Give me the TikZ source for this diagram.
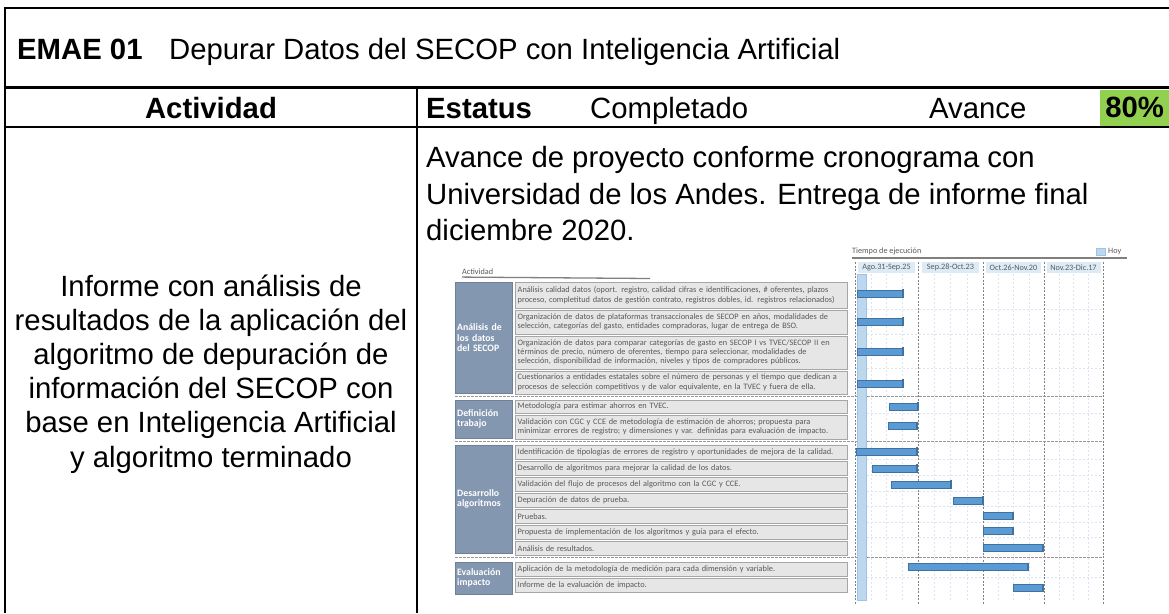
\documentclass[tikz,border=0pt]{standalone}
\usepackage{fontspec}
\setmainfont{Liberation Sans}
\newfontfamily\ganttfont{Carlito}
\usepackage{tikz}
\usetikzlibrary{positioning}
\definecolor{avancegreen}{HTML}{92D050}
\definecolor{groupblue}{HTML}{8497B0}
\definecolor{taskgray}{HTML}{E7E6E6}
\definecolor{taskline}{HTML}{A6A6A6}
\definecolor{barblue}{HTML}{5B9BD5}
\definecolor{barline}{HTML}{41719C}
\definecolor{hoyblue}{HTML}{BDD7EE}
\definecolor{hoyline}{HTML}{9DC3E6}
\definecolor{headblue}{HTML}{DDEBF7}
\definecolor{gridblue}{HTML}{DAE3F3}
\definecolor{ganttgray}{HTML}{595959}
\tikzstyle{tableline} = [draw, line width=2.7pt]
\tikzstyle{big}       = [font=\fontsize{29.3}{34.3}\selectfont, inner sep=0pt]
\tikzstyle{bigbold}   = [big, font=\fontsize{29.3}{34.3}\selectfont\bfseries]
\tikzstyle{small}     = [font=\ganttfont\fontsize{8.2}{9.5}\selectfont, text=ganttgray, inner sep=0pt]
\tikzstyle{task}      = [draw=taskline, fill=taskgray, rectangle, anchor=north west, text width=327pt, inner xsep=2.5pt, inner ysep=0pt, align=left, font=\ganttfont\fontsize{8.3}{9.4}\selectfont, text=ganttgray]
\tikzstyle{group}     = [draw=groupblue!85!black, fill=groupblue, rectangle, anchor=north west, text width=53pt, inner xsep=2pt, inner ysep=0pt, align=left, font=\ganttfont\bfseries\fontsize{9.8}{10.2}\selectfont, text=white]
\tikzstyle{bar}       = [draw=barline, fill=barblue, line width=0.5pt]
\tikzstyle{barend}    = [draw=barline, line width=1.3pt]
\tikzstyle{major}     = [draw=gray, dash pattern=on 2pt off 1.5pt, line width=0.7pt]
\tikzstyle{minor}     = [draw=gridblue, dash pattern=on 2pt off 2pt, line width=0.5pt]
\tikzstyle{groupsep}  = [draw=gray!80, dash pattern=on 2.5pt off 1.5pt, line width=0.7pt]

\begin{document}
\begin{tikzpicture}[x=1pt, y=-1pt, node distance=1.6pt]
\useasboundingbox (0,0) rectangle (1169,613);

% ficha
\node [bigbold, anchor=base west] (code)       at (17,59)   {EMAE 01};
\node [big, anchor=base west]     (title)      at (169,59)  {Depurar Datos del SECOP con Inteligencia Artificial};
\node [bigbold, anchor=base]      (actividad)  at (211,118) {Actividad};
\node [bigbold, anchor=base west] (estatus)    at (426,118) {Estatus};
\node [big, anchor=base west]     (completado) at (590,118) {Completado};
\node [big, anchor=base west]     (avance)     at (929,118) {Avance};
\node [bigbold, fill=avancegreen, anchor=north west, minimum width=69pt, minimum height=36.5pt] (pct) at (1100,89.3) {80\%};

\foreach \txt [count=\i] in {Informe con análisis de, resultados de la aplicación del, algoritmo de depuración de, información del SECOP con, base en Inteligencia Artificial, y algoritmo terminado}
  \node [big, anchor=base] (inf\i) at (211,{296+34.2*(\i-1)}) {\txt};

\node [big, anchor=base west] (nota1) at (426,167.5) {Avance de proyecto conforme cronograma con};
\node [big, anchor=base west] (nota2) at (426,204)   {Universidad de los Andes. Entrega de informe final};
\node [big, anchor=base west] (nota3) at (426,240.3) {diciembre 2020.};

% cronograma: rejilla
\foreach \x in {870.75,886.5,902.25,934.25,950.5,966.75,998.25,1013.5,1028.75,1058.75,1073.5,1088.25}
  \draw [minor] (\x,274) -- (\x,600);
\foreach \y in {309,334,368.5,413,459.5,475.5,491,506.5,522,537.5,577}
  \draw [minor] (855,\y) -- (1103,\y);
\foreach \x in {855,918,983,1044,1103}
  \draw [major] (\x,262) -- (\x,604);
\foreach \y in {396,441,557}
  \draw [groupsep] (455,\y) -- (1103,\y);

% cronograma: encabezados
\node [small, anchor=west] (actg)   at (462,272)   {Actividad};
\draw [draw=gray, line width=1.3pt] (actg.south west) ++(0,2) -- (650,278.5);
\node [small, anchor=west] (tiempo) at (852,251.5) {Tiempo de ejecución};
\draw [draw=gray, line width=1.5pt] (852,258) -- (1127,258);
\node [small, anchor=west] (hoy)    at (1108,251.5) {Hoy};
\node [draw=hoyline, fill=hoyblue, minimum width=9pt, minimum height=7pt, inner sep=0pt, left=3pt of hoy] (hoykey) {};

\node [small, fill=headblue, minimum width=57pt, minimum height=11pt] (m1) at (886.5,267.5)  {Ago.31-Sep.25};
\node [small, fill=headblue, minimum width=57pt, minimum height=11pt] (m2) at (950.5,267.5)  {Sep.28-Oct.23};
\node [small, fill=headblue, minimum width=55pt, minimum height=11pt] (m3) at (1013.5,267.5) {Oct.26-Nov.20};
\node [small, fill=headblue, minimum width=54pt, minimum height=11pt] (m4) at (1073.5,267.5) {Nov.23-Dic.17};

% cronograma: grupos
\node [group, minimum height=111pt] (g1) at (455,282)   {Análisis de\\los datos\\del SECOP};
\node [group, minimum height=38pt]  (g2) at (455,399.5) {Definición\\trabajo};
\node [group, minimum height=108pt] (g3) at (455,445)   {Desarrollo\\algoritmos};
\node [group, minimum height=32pt]  (g4) at (455,562)   {Evaluación\\impacto};

% cronograma: actividades
\node [task, minimum height=26pt]           (t1)  at (515,282) {Análisis calidad datos (oport. registro, calidad cifras e identificaciones, \# oferentes, plazos\\proceso, completitud datos de gestión contrato, registros dobles, id. registros relacionados)};
\node [task, minimum height=23.5pt, below=of t1]  (t2)  {Organización de datos de plataformas transaccionales de SECOP en años, modalidades de\\selección, categorías del gasto, entidades compradoras, lugar de entrega de BSO.};
\node [task, minimum height=33pt, below=of t2]    (t3)  {Organización de datos para comparar categorías de gasto en SECOP I vs TVEC/SECOP II en\\términos de precio, número de oferentes, tiempo para seleccionar, modalidades de\\selección, disponibilidad de información, niveles y tipos de compradores públicos.};
\node [task, minimum height=23.5pt, below=of t3]  (t4)  {Cuestionarios a entidades estatales sobre el número de personas y el tiempo que dedican a\\procesos de selección competitivos y de valor equivalente, en la TVEC y fuera de ella.};

\node [task, minimum height=12.5pt]         (t5)  at (515,400) {Metodología para estimar ahorros en TVEC.};
\node [task, minimum height=24pt, below=of t5]    (t6)  {Validación con CGC y CCE de metodología de estimación de ahorros; propuesta para\\minimizar errores de registro; y dimensiones y var. definidas para evaluación de impacto.};

\node [task, minimum height=14pt]           (t7)  at (515,445) {Identificación de tipologías de errores de registro y oportunidades de mejora de la calidad.};
\node [task, minimum height=14pt, below=of t7]    (t8)  {Desarrollo de algoritmos para mejorar la calidad de los datos.};
\node [task, minimum height=14pt, below=of t8]    (t9)  {Validación del flujo de procesos del algoritmo con la CGC y CCE.};
\node [task, minimum height=14pt, below=of t9]    (t10) {Depuración de datos de prueba.};
\node [task, minimum height=14pt, below=of t10]   (t11) {Pruebas.};
\node [task, minimum height=14pt, below=of t11]   (t12) {Propuesta de implementación de los algoritmos y guía para el efecto.};
\node [task, minimum height=14pt, below=of t12]   (t13) {Análisis de resultados.};

\node [task, minimum height=14pt]           (t14) at (515,562) {Aplicación de la metodología de medición para cada dimensión y variable.};
\node [task, minimum height=14.4pt, below=of t14] (t15) {Informe de la evaluación de impacto.};

% cronograma: barras
\draw [draw=hoyline, fill=hoyblue] (857,274) rectangle (866,600);
\foreach \y/\a/\b in {293.5/857/903, 321.5/857/903, 351.5/857/903, 383.5/857/903, 406.5/889/918, 426/888/917, 451.5/856/917, 468.5/872/917, 484.5/891/951, 500.5/953/983, 516/983/1013, 531/983/1013, 548/983/1043, 567/908/1028, 588/1013/1043}
{
  \draw [bar] (\a,\y-3.7) rectangle (\b,\y+3.7);
  \draw [barend] (\b,\y-4.3) -- (\b,\y+4.3);
}

% marco
\draw [tableline] (3.7,8) -- (1169,8);
\draw [tableline] (3.7,87.5) -- (1169,87.5);
\draw [tableline] (3.7,127) -- (1169,127);
\draw [tableline] (5,6.7) -- (5,613);
\draw [tableline] (417,87.5) -- (417,613);

\end{tikzpicture}
\end{document}
